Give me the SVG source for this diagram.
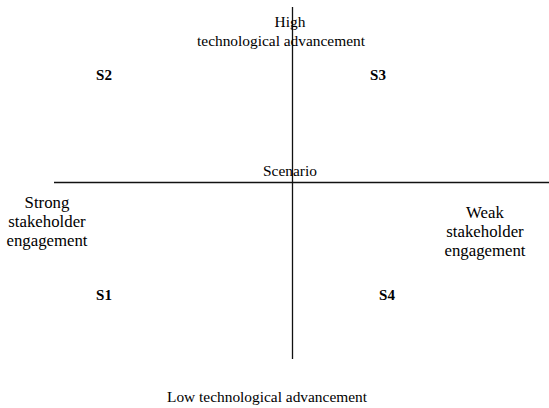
<svg xmlns="http://www.w3.org/2000/svg" width="549" height="408" viewBox="0 0 549 408">
<style>
text{font-family:"Liberation Serif","Times New Roman",serif;font-size:15.4px;fill:#000;text-anchor:middle}
.s{font-weight:bold;font-size:15px}
.side{font-size:16.8px}
.ax{stroke:#111;stroke-width:1.3;fill:none}
</style>
<rect width="549" height="408" fill="#fff"/>
<g id="connectors">
<line class="ax" x1="54" y1="182.5" x2="549" y2="182.5"/>
<line class="ax" x1="292.5" y1="7" x2="292.5" y2="359"/>
</g>
<g id="high"><text x="290" y="27">High</text><text x="281" y="46">technological advancement</text></g>
<g id="center"><text x="290" y="176">Scenario</text></g>
<g id="strong" class="side"><text class="side" x="47" y="208">Strong</text><text class="side" x="47" y="227">stakeholder</text><text class="side" x="47" y="246">engagement</text></g>
<g id="weak"><text class="side" x="485" y="218">Weak</text><text class="side" x="485" y="237">stakeholder</text><text class="side" x="485" y="256">engagement</text></g>
<g id="low"><text x="367" y="402" style="text-anchor:end">Low technological advancement</text></g>
<g id="s2"><text class="s" x="104" y="80">S2</text></g>
<g id="s3"><text class="s" x="378" y="80">S3</text></g>
<g id="s1"><text class="s" x="104" y="300">S1</text></g>
<g id="s4"><text class="s" x="387" y="300">S4</text></g>
</svg>
